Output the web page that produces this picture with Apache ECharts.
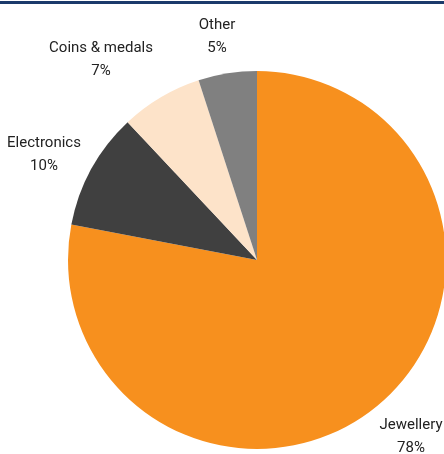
<!DOCTYPE html>
<html><head><meta charset="utf-8">
<script src="https://cdn.jsdelivr.net/npm/echarts@6/dist/echarts.min.js"></script>
<style>html,body{margin:0;padding:0;background:#fff}#c{width:444px;height:454px}</style>
</head><body><div id="c"></div>
<script>
const categories = ['Jewellery', 'Electronics', 'Coins & medals', 'Other'];
const values = [78, 10, 7, 5];
const colors = ['#f7901e', '#404040', '#fde3c9', '#808080'];
const labelPos = [[411, 437], [44, 155], [101, 60], [217, 37]];

const chart = echarts.init(document.getElementById('c'), null, {renderer: 'canvas'});
chart.setOption({
  animation: false,
  graphic: [{type: 'rect', shape: {x: 0, y: 1, width: 444, height: 3}, style: {fill: '#1b3a6b'}}],
  series: [{
    type: 'pie',
    center: [257, 260],
    radius: 189,
    startAngle: 90,
    clockwise: true,
    data: categories.map((n, i) => ({name: n, value: values[i], itemStyle: {color: colors[i]}})),
    label: {
      show: true,
      position: 'outside',
      overflow: 'none',
      width: 200,
      formatter: p => p.name + '\n' + Math.round(p.percent) + '%',
      fontFamily: 'Roboto, sans-serif',
      fontSize: 15,
      lineHeight: 23,
      color: '#222',
      align: 'center'
    },
    labelLine: {show: false},
    labelLayout: p => ({x: labelPos[p.dataIndex][0], y: labelPos[p.dataIndex][1], align: 'center', verticalAlign: 'middle', width: 200}),
    emphasis: {disabled: true}
  }]
});
</script></body></html>
